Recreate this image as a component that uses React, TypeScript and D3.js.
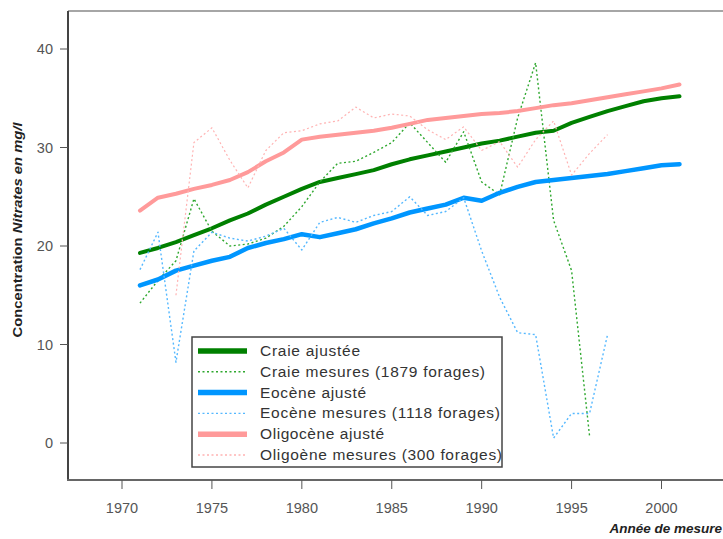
import React from 'react';
import * as d3 from 'd3';

// years for the fitted curves
const fitYears = d3.range(1971, 2002);

const craieFit = [19.3, 19.8, 20.4, 21.1, 21.8, 22.6, 23.3, 24.2, 25.0, 25.8, 26.5, 26.9, 27.3, 27.7, 28.3, 28.8,
  29.2, 29.6, 30.0, 30.4, 30.7, 31.1, 31.5, 31.7, 32.5, 33.1, 33.7, 34.2, 34.7, 35.0, 35.2];
const eoceneFit = [16.0, 16.6, 17.5, 18.0, 18.5, 18.9, 19.8, 20.3, 20.7, 21.2, 20.9, 21.3, 21.7, 22.3, 22.8, 23.4,
  23.8, 24.2, 24.9, 24.6, 25.4, 26.0, 26.5, 26.7, 26.9, 27.1, 27.3, 27.6, 27.9, 28.2, 28.3];
const oligoFit = [23.6, 24.9, 25.3, 25.8, 26.2, 26.7, 27.5, 28.6, 29.5, 30.8, 31.1, 31.3, 31.5, 31.7, 32.0, 32.4,
  32.8, 33.0, 33.2, 33.4, 33.5, 33.7, 34.0, 34.3, 34.5, 34.8, 35.1, 35.4, 35.7, 36.0, 36.4];

// measured means
const craieYears = d3.range(1971, 1997);
const craieMes = [14.2, 16.5, 18.5, 24.8, 21.5, 20.0, 20.2, 20.8, 22.0, 24.0, 26.5, 28.4, 28.6, 29.5, 30.5, 32.5,
  30.5, 28.5, 31.6, 26.5, 25.2, 33.0, 38.6, 22.6, 17.5, 0.7];
const eoceneYears = d3.range(1971, 1998);
const eoceneMes = [17.6, 21.4, 8.2, 19.5, 21.4, 20.8, 20.5, 21.0, 21.8, 19.6, 22.4, 22.9, 22.4, 23.1, 23.5, 25.0,
  23.1, 23.5, 24.9, 19.5, 14.8, 11.2, 11.0, 0.5, 3.0, 3.0, 11.0];
const oligoYears = d3.range(1973, 1998);
const oligoMes = [15.0, 30.5, 32.0, 28.7, 25.9, 29.7, 31.5, 31.7, 32.4, 32.7, 34.1, 33.0, 33.4, 33.2, 31.8, 30.8,
  32.1, 29.7, 30.6, 28.0, 30.8, 32.7, 27.2, 29.4, 31.3];

const xTicks = [1970, 1975, 1980, 1985, 1990, 1995, 2000];
const yTicks = [0, 10, 20, 30, 40];

const legendLabels = [
  'Craie ajustée',
  'Craie mesures (1879 forages)',
  'Eocène ajusté',
  'Eocène mesures (1118 forages)',
  'Oligocène ajusté',
  'Oligoène mesures (300 forages)',
];
const legendWidths = [100, 225, 106, 240, 124, 242];

const W = 723;
const H = 539;
const font = 'Liberation Sans, Arial, sans-serif';

export default function App() {
  const x = d3.scaleLinear().domain([1970, 2000]).range([122, 661.5]);
  const y = d3.scaleLinear().domain([0, 40]).range([443, 49]);

  const line = (years: number[], vals: number[]) =>
    d3.line<number>().x((d, i) => x(years[i])).y((d) => y(d))(vals) || '';

  const series = [
    { d: line(fitYears, craieFit), color: '#008000', w: 4, dash: null },
    { d: line(craieYears, craieMes), color: '#2fa82f', w: 1.4, dash: '2,2.5' },
    { d: line(fitYears, eoceneFit), color: '#0096ff', w: 4.5, dash: null },
    { d: line(eoceneYears, eoceneMes), color: '#55b8ff', w: 1.4, dash: '2,2.5' },
    { d: line(fitYears, oligoFit), color: '#ff9a9a', w: 4, dash: null },
    { d: line(oligoYears, oligoMes), color: '#ffb3b3', w: 1.2, dash: '2,2.5' },
  ];

  const legX = 192;
  const legY = 337;
  const rowH = 20.8;

  return (
    <svg width={W} height={H} style={{ position: 'absolute', left: 0, top: 0, background: '#fff' }}
      fontFamily={font}>
      <rect x={0} y={0} width={W} height={H} fill="#fff" />
      {/* frame */}
      <line x1={68} x2={W} y1={11} y2={11} stroke="#888" strokeWidth={1.5} />
      <line x1={68} x2={68} y1={11} y2={481} stroke="#444" strokeWidth={2} />
      <line x1={67} x2={W} y1={480} y2={480} stroke="#666" strokeWidth={2} />

      {yTicks.map((t) => (
        <g key={'y' + t}>
          <line x1={60} x2={68} y1={y(t)} y2={y(t)} stroke="#555" strokeWidth={1} />
          <text x={53} y={y(t) + 5} textAnchor="end" fontSize={14.5} fill="#555">{t}</text>
        </g>
      ))}
      {xTicks.map((t) => (
        <g key={'x' + t}>
          <line x1={x(t)} x2={x(t)} y1={480} y2={489} stroke="#555" strokeWidth={1} />
          <text x={x(t)} y={513} textAnchor="middle" fontSize={14.5} fill="#555">{t}</text>
        </g>
      ))}

      {series.map((s, i) => (
        <path key={i} d={s.d} fill="none" stroke={s.color} strokeWidth={s.w}
          strokeDasharray={s.dash || undefined} strokeLinejoin="round" strokeLinecap={s.dash ? 'butt' : 'round'} />
      ))}

      {/* legend */}
      <rect x={legX} y={legY} width={310} height={130} fill="#fff" stroke="#444" strokeWidth={1.5} />
      {series.map((s, i) => {
        const cy = legY + 14 + i * rowH;
        return (
          <g key={'l' + i}>
            <line x1={legX + 6} x2={legX + 55} y1={cy} y2={cy} stroke={s.color}
              strokeWidth={s.dash ? 1.4 : 5.5} strokeDasharray={s.dash || undefined} />
            <text x={260} y={cy + 5} fontSize={15.5} fill="#333" textLength={legendWidths[i]}
              lengthAdjust="spacing">{legendLabels[i]}</text>
          </g>
        );
      })}

      <text x={722} y={533} textAnchor="end" fontSize={13.5} fontWeight="bold" fontStyle="italic"
        fill="#222">Année de mesure</text>
      <text transform="translate(22,230) rotate(-90)" textAnchor="middle" fontSize={12.5}
        fontWeight="bold" fill="#222" textLength={215} lengthAdjust="spacingAndGlyphs">
        Concentration <tspan fontStyle="italic">Nitrates en mg/l</tspan>
      </text>
    </svg>
  );
}
